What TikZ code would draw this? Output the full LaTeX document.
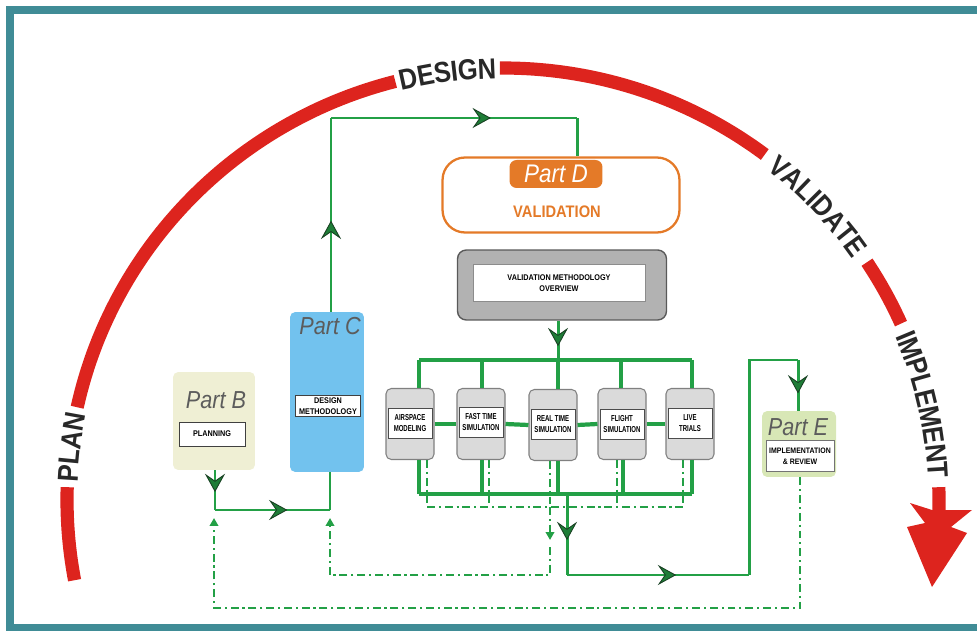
\documentclass[tikz,border=0pt]{standalone}
\usepackage{fontspec}
\setmainfont{Liberation Sans}
\newfontfamily\narrowsans[FakeStretch=0.88]{Liberation Sans}
\newfontfamily\tightsans[FakeStretch=0.7]{Liberation Sans}
\usetikzlibrary{arrows.meta,decorations.markings,decorations.text}

\definecolor{frameteal}{RGB}{64,140,150}
\definecolor{arcred}{RGB}{221,36,30}
\definecolor{arcink}{RGB}{40,40,40}
\definecolor{flowgreen}{RGB}{35,160,70}
\definecolor{tipfill}{RGB}{30,125,55}
\definecolor{tipdark}{RGB}{25,65,35}
\definecolor{partorange}{RGB}{228,122,40}
\definecolor{partgray}{RGB}{92,92,92}
\definecolor{beigefill}{RGB}{239,239,212}
\definecolor{bluefill}{RGB}{114,194,238}
\definecolor{limefill}{RGB}{216,231,182}
\definecolor{boxgray}{RGB}{178,178,178}
\definecolor{modgray}{RGB}{218,218,218}

\newcommand\arcfont{\narrowsans\bfseries\fontsize{16.5}{16.5}\selectfont}
\newcommand\tagfont{\narrowsans\itshape\fontsize{14}{14}\selectfont}
\newcommand\tinyfont{\narrowsans\bfseries\fontsize{4.7}{5.9}\selectfont}
\newcommand\modfont{\tightsans\bfseries\fontsize{4.9}{6.5}\selectfont}

\tikzset{
  arcseg/.style 2 args={insert path={plot[domain=#1:#2, samples=60, variable=\t]
      ({503+436*cos(\t)},{500+432*sin(\t)})}},
  redarc/.style={draw=arcred, line width=7.5pt},
  arcword/.style={decorate, decoration={text along path, text={|\arcfont|#1},
      text align=center, raise=-5.9pt, text color=arcink}},
  flow/.style={draw=flowgreen, line width=1.7pt},
  bus/.style={draw=flowgreen, line width=2.4pt},
  dashflow/.style={draw=flowgreen, line width=1.4pt,
      dash pattern=on 4.5pt off 2.2pt on 1.2pt off 2.2pt},
  dashtip/.style={-{Triangle[length=4.5pt,width=4.8pt]}},
  midtip/.style={postaction={decorate}, decoration={markings,
      mark=at position #1 with {\arrow{Stealth[length=10.5pt,width=11.5pt,inset=4pt,
        fill=tipfill,color=tipdark,line width=0.5pt]}}}},
  partbox/.style={rounded corners=3pt, inner sep=0pt},
  tag/.style={font=\tagfont, text=partgray, inner sep=0pt},
  labelbox/.style={draw=black!75, fill=white, line width=0.5pt, inner sep=0pt,
      align=center, font=\tinyfont},
  module/.style={draw=black!50, fill=modgray, rounded corners=3pt, line width=0.6pt,
      minimum width=0.96cm, minimum height=1.42cm, inner sep=0pt},
  modlabel/.style={draw=black!70, fill=white, line width=0.5pt, minimum width=0.88cm,
      minimum height=0.6cm, inner sep=0pt, align=center, font=\modfont},
}

\begin{document}
\begin{tikzpicture}[x=0.02cm, y=-0.02cm]
\useasboundingbox (0,0) rectangle (977,631);

% outer frame
\draw[frameteal, line width=4pt] (990,10) -- (10,10) -- (10,628) -- (990,628);

% the red plan / design / validate / implement arch
\draw[redarc, arcseg={-190.7}{-178.3}];
\path[arcword=PLAN, arcseg={-178.3}{-167.6}];
\draw[redarc, arcseg={-167.6}{-104.3}];
\path[arcword=DESIGN, arcseg={-104.3}{-90.4}];
\draw[redarc, arcseg={-90.4}{-53.1}];
\path[arcword=VALIDATE, arcseg={-53.1}{-33.4}];
\draw[redarc, arcseg={-33.4}{-24.1}];
\path[arcword=IMPLEMENT, arcseg={-24.1}{-1.7}];
\draw[redarc, arcseg={-1.7}{0}] -- (939,512);
\fill[arcred] (932,510) -- (910,503) -- (925,523) -- (907,527) -- (932,587)
  -- (967,533) -- (951,527) -- (972,510) -- (946,510) -- cycle;

% Part B
\node[partbox, fill=beigefill, minimum width=1.64cm, minimum height=1.96cm] (partB) at (214,421) {};
\node[tag] (tagB) at (216,400) {Part B};
\node[labelbox, minimum width=1.32cm, minimum height=0.48cm] (planning) at (212,434) {PLANNING};

% Part C
\node[partbox, fill=bluefill, minimum width=1.48cm, minimum height=3.2cm] (partC) at (327,392) {};
\node[tag] (tagC) at (330,326) {Part C};
\node[labelbox, minimum width=1.3cm, minimum height=0.42cm] (designm) at (328,406) {DESIGN\\METHODOLOGY};

% Part D
\node[draw=partorange, line width=1.3pt, rounded corners=0.45cm, minimum width=4.74cm,
  minimum height=1.5cm, inner sep=0pt] (partD) at (561,195) {};
\node[fill=partorange, rounded corners=4pt, minimum width=1.86cm, minimum height=0.56cm,
  inner sep=0pt, text=white, font=\narrowsans\itshape\fontsize{14.5}{14.5}\selectfont] (tagD) at (556,174) {Part D};
\node[text=partorange, inner sep=0pt, font=\narrowsans\bfseries\fontsize{9.5}{9.5}\selectfont] (valtext) at (557,212) {VALIDATION};

% validation methodology overview
\node[draw=black!65, fill=boxgray, rounded corners=5pt, line width=0.8pt, minimum width=4.18cm,
  minimum height=1.4cm, inner sep=0pt] (overview) at (562,285) {};
\node[labelbox, draw=black!45, minimum width=3.44cm, minimum height=0.74cm] (ovlabel) at (559,283)
  {VALIDATION METHODOLOGY\\OVERVIEW};

% validation modules
\node[module] (m1) at (410,424) {};
\node[module] (m2) at (481,424) {};
\node[module] (m3) at (553,425) {};
\node[module] (m4) at (622,424) {};
\node[module] (m5) at (690,424) {};
\node[modlabel] (l1) at (410,423) {AIRSPACE\\MODELING};
\node[modlabel] (l2) at (481,422) {FAST TIME\\SIMULATION};
\node[modlabel] (l3) at (553,424) {REAL TIME\\SIMULATION};
\node[modlabel] (l4) at (622,424) {FLIGHT\\SIMULATION};
\node[modlabel] (l5) at (690,423) {LIVE\\TRIALS};

% Part E
\node[partbox, fill=limefill, minimum width=1.48cm, minimum height=1.32cm] (partE) at (799,444) {};
\node[labelbox, draw=black!55, minimum width=1.36cm, minimum height=0.62cm, font=\narrowsans\bfseries\fontsize{4.5}{6.2}\selectfont]
  (implrev) at (800,456) {IMPLEMENTATION\\\& REVIEW};
\node[tag] (tagE) at (798,427) {Part E};

% routing points
\coordinate (q1) at (215,510);
\coordinate (q2) at (330,510);
\coordinate (p1) at (331,118);
\coordinate (p2) at (577,118);
\coordinate (t1) at (419,360);
\coordinate (t2) at (482,360);
\coordinate (t3) at (558,360);
\coordinate (t4) at (621,360);
\coordinate (t5) at (692,360);
\coordinate (b1) at (419,494);
\coordinate (b2) at (482,494);
\coordinate (b3) at (558,494);
\coordinate (b4) at (623,494);
\coordinate (b5) at (692,494);
\coordinate (d1) at (427,507);
\coordinate (d2) at (489,507);
\coordinate (d3) at (550,507);
\coordinate (d4) at (617,507);
\coordinate (d5) at (683,507);
\coordinate (o1) at (567,494);
\coordinate (o2) at (567,575);
\coordinate (o3) at (749,575);
\coordinate (o4) at (749,360);
\coordinate (o5) at (798,360);
\coordinate (r0) at (550,540);
\coordinate (r1) at (550,547);
\coordinate (r2) at (550,575);
\coordinate (r3) at (330,575);
\coordinate (r4) at (330,518);
\coordinate (e1) at (800,608);
\coordinate (e2) at (214,608);
\coordinate (e3) at (214,518);

% Part B -> Part C
\draw[flow, midtip=0.55] (q1 |- partB.south) -- (q1);
\draw[flow, midtip=0.63] (q1) -- (q2);
\draw[flow] (q2) -- (q2 |- partC.south);

% Part C -> Part D
\draw[flow, midtip=0.47] (p1 |- partC.north) -- (p1);
\draw[flow, midtip=0.65] (p1) -- (p2);
\draw[flow] (p2) -- (p2 |- partD.north);

% overview -> modules
\draw[flow, midtip=0.65] (t3 |- overview.south) -- (t3);
\draw[bus] (t1) -- (t5);
\foreach \i in {1,...,5} {
  \draw[bus] (t\i) -- (t\i |- m\i.north);
  \draw[bus] (b\i |- m\i.south) -- (b\i);
  \draw[dashflow] (d\i |- m\i.south) -- (d\i);
}
\draw[bus] (m1.east) -- (m2.west);
\draw[bus] (m2.east) -- (m3.west);
\draw[bus] (m3.east) -- (m4.west);
\draw[bus] (m4.east) -- (m5.west);
\draw[bus] (b1) -- (b5);
\draw[dashflow] (d1) -- (d5);

% modules -> Part E
\draw[flow, midtip=0.57] (o1) -- (o2);
\draw[flow, midtip=0.6] (o2) -- (o3);
\draw[flow] (o3) -- (o4) -- (o5);
\draw[flow, midtip=0.66] (o5) -- (o5 |- partE.north);

% feedback loops
\draw[dashflow, dashtip] (d3) -- (r0);
\draw[dashflow, dashtip] (r1) -- (r2) -- (r3) -- (r4);
\draw[dashflow, dashtip] (e1 |- partE.south) -- (e1) -- (e2) -- (e3);
\end{tikzpicture}
\end{document}
